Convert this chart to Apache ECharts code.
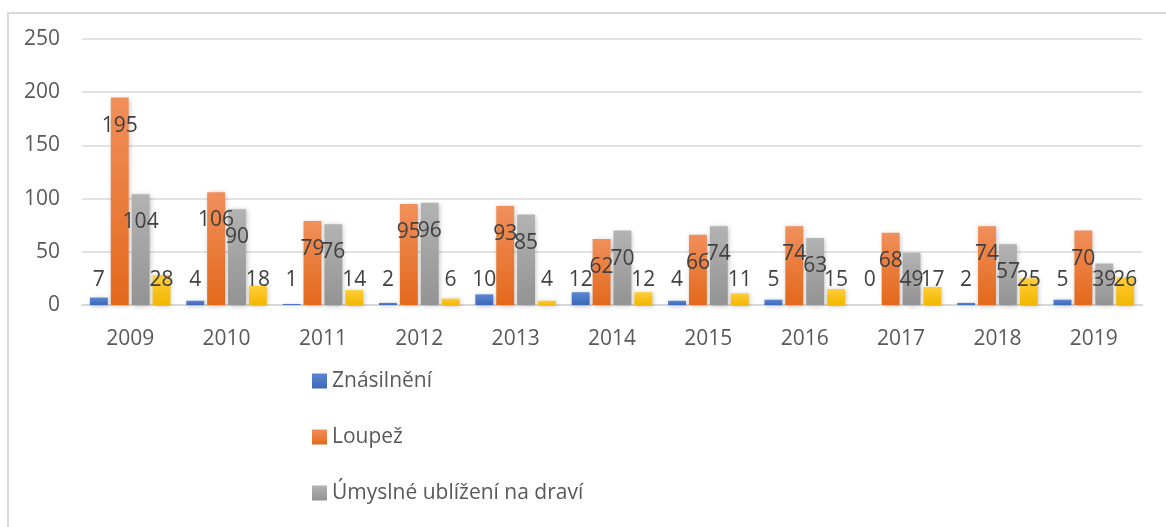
<!DOCTYPE html>
<html>
<head>
<meta charset="utf-8">
<script src="https://cdn.jsdelivr.net/npm/echarts@6/dist/echarts.min.js"></script>
<style>
html,body{margin:0;padding:0;background:#fff;}
#chart{width:1166px;height:527px;}
</style>
</head>
<body>
<div id="chart"></div>
<script>
const categories = ['2009','2010','2011','2012','2013','2014','2015','2016','2017','2018','2019'];
const seriesNames = ['Znásilnění','Loupež','Úmyslné ublížení na draví','Vražda'];
const znasilneni = [7,4,1,2,10,12,4,5,0,2,5];
const loupez = [195,106,79,95,93,62,66,74,68,74,70];
const ublizeni = [104,90,76,96,85,70,74,63,49,57,39];
const ctvrta = [28,18,14,6,4,12,11,15,17,25,26];
const yTicks = [0,50,100,150,200,250];

const gradients = [
  ['#5a86d4','#3d68b8'],
  ['#f18f5b','#e3691b'],
  ['#b3b3b3','#939393'],
  ['#ffcd38','#f2b700']
];
const allData = [znasilneni, loupez, ublizeni, ctvrta];

const FONT = '"Open Sans", sans-serif';

function makeData(arr){
  return arr.map(v => ({
    value: v,
    label: v >= 50
      ? {position: 'insideTop', distance: 18}
      : {position: 'insideBottom', distance: 15}
  }));
}

const chart = echarts.init(document.getElementById('chart'));
chart.setOption({
  animation: false,
  backgroundColor: '#ffffff',
  graphic: [{
    type: 'rect',
    shape: {x: 8, y: 13, width: 1200, height: 600},
    style: {fill: 'none', stroke: '#d9d9d9', lineWidth: 2},
    silent: true,
    z: -1
  }],
  grid: {left: 82, right: 24, top: 39, bottom: 222},
  legend: {
    data: seriesNames.slice(0,3),
    orient: 'vertical',
    left: 312,
    top: 369,
    padding: 0,
    itemWidth: 15,
    itemHeight: 15,
    itemGap: 32,
    icon: 'rect',
    textStyle: {fontFamily: FONT, fontSize: 21, color: '#595959', lineHeight: 24, padding: [0,0,0,0]}
  },
  xAxis: {
    type: 'category',
    data: categories,
    axisLine: {lineStyle: {color: '#d9d9d9', width: 2}},
    axisTick: {show: false},
    axisLabel: {fontFamily: FONT, fontSize: 21, color: '#595959', margin: 24}
  },
  yAxis: {
    type: 'value',
    min: yTicks[0],
    max: yTicks[yTicks.length-1],
    interval: 50,
    axisLine: {show: false},
    axisTick: {show: false},
    splitLine: {lineStyle: {color: '#d9d9d9', width: 1.5}},
    axisLabel: {fontFamily: FONT, fontSize: 21, color: '#595959', margin: 22}
  },
  series: allData.map((arr, i) => ({
    name: seriesNames[i],
    type: 'bar',
    data: makeData(arr),
    barGap: '16.7%',
    barCategoryGap: '16.4%',
    itemStyle: {
      color: new echarts.graphic.LinearGradient(0,0,0,1,[
        {offset:0, color: gradients[i][0]},
        {offset:1, color: gradients[i][1]}
      ]),
      shadowBlur: 5,
      shadowColor: 'rgba(0,0,0,0.25)',
      shadowOffsetX: 1,
      shadowOffsetY: 1
    },
    label: {
      show: true,
      fontFamily: FONT,
      fontSize: 21,
      lineHeight: 20,
      color: '#404040'
    }
  }))
});
</script>
</body>
</html>
